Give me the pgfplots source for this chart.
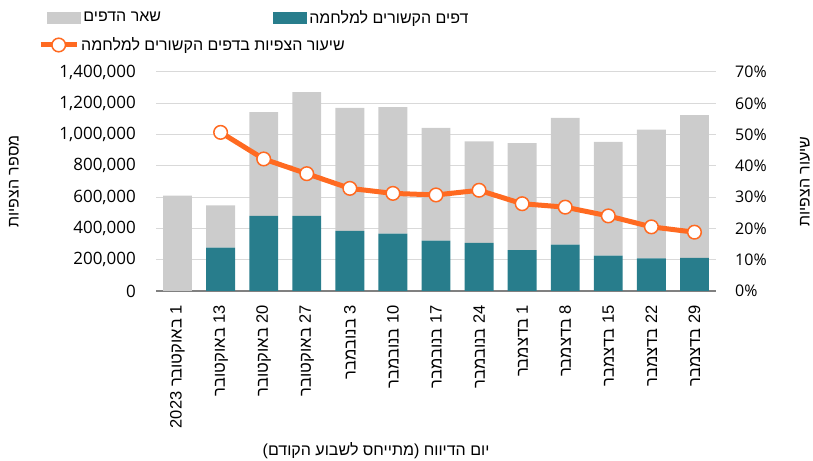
\documentclass[border=0pt]{standalone}
\usepackage{fontspec}
\setmainfont{Open Sans}
\newfontfamily\hebfont[Script=Hebrew]{Liberation Sans}
\usepackage{pgfplots}
\usepackage{pgfplotstable}
\pgfplotsset{compat=1.18}
\TeXXeTstate=1
\newcommand{\heb}[1]{{\hebfont\beginR #1\endR}}

\definecolor{warteal}{HTML}{287D8C}
\definecolor{restgray}{HTML}{CCCCCC}
\definecolor{rateorange}{HTML}{FF6A21}
\definecolor{gridgray}{HTML}{D9D9D9}
\definecolor{axisgray}{HTML}{808080}

\pgfplotsset{
  common/.style={
    at={(156pt,169pt)}, anchor=south west,
    scale only axis, width=560pt, height=219pt,
    xmin=-0.5, xmax=12.5,
    major tick length=0pt,
    /pgf/number format/assume math mode=true,
  },
  longline legend/.style={legend image code/.code={%
    \draw[mark repeat=2, mark phase=2, ##1] plot coordinates {(0pt,0pt) (18pt,0pt) (36pt,0pt)};}},
}

% weekly views: war-related pages, other pages, share of war pages (%)
\pgfplotstableread{
x war    rest   rate
0 0      610000 nan
1 277000 271000 50.7
2 481000 662000 42.2
3 480000 792000 37.5
4 384000 786000 32.8
5 366000 810000 31.2
6 322000 720000 30.7
7 307000 650000 32.2
8 262000 684000 27.9
9 296000 810000 26.8
10 226000 727000 24.0
11 209000 822000 20.5
12 211000 914000 18.8
}\data

\begin{document}
\fontsize{16}{19}\selectfont
\begin{tikzpicture}
\useasboundingbox (0pt,0pt) rectangle (813pt,460pt);
\begin{axis}[common,
  ybar stacked, bar width=0.67,
  ymin=0, ymax=1400000,
  ytick={0,200000,...,1400000},
  scaled y ticks=false,
  yticklabel style={/pgf/number format/fixed, /pgf/number format/1000 sep={,},
    inner xsep=0pt, font=\fontsize{17}{20}\selectfont},
  yticklabel shift=20pt,
  xtick={0,...,12},
  xticklabels={\heb{1 באוקטובר 2023}, \heb{13 באוקטובר}, \heb{20 באוקטובר}, \heb{27 באוקטובר},
    \heb{3 בנובמבר}, \heb{10 בנובמבר}, \heb{17 בנובמבר}, \heb{24 בנובמבר},
    \heb{1 בדצמבר}, \heb{8 בדצמבר}, \heb{15 בדצמבר}, \heb{22 בדצמבר}, \heb{29 בדצמבר}},
  xticklabel style={rotate=90, anchor=east, inner sep=0pt, font=\fontsize{16.5}{19}\selectfont},
  xticklabel shift=14pt,
  ymajorgrids, grid style={gridgray, line width=1pt},
  separate axis lines,
  axis x line*=bottom, axis y line*=left,
  x axis line style={axisgray, line width=1.2pt},
  y axis line style={draw=none},
  xlabel={{\hebfont\beginR יום הדיווח (מתייחס לשבוע הקודם)\endR}},
  xlabel style={at={(axis description cs:0.393,-0.731)}, anchor=center},
  ylabel={{\hebfont\beginR מספר הצפיות\endR}},
  ylabel style={at={(axis description cs:-0.254,0.5)}, anchor=center},
  legend columns=2, reverse legend,
  legend style={at={(axis description cs:-0.1944,1.2466)}, anchor=west,
    draw=none, fill=none, inner sep=0pt,
    /tikz/every even column/.append style={column sep=110.3pt}},
]
\addplot[fill=warteal, draw=none,
  legend image code/.code={\fill[warteal] (0pt,-6pt) rectangle (34pt,6pt);}]
  table[x=x, y=war]{\data};
\addlegendentry{{\hebfont\beginR דפים הקשורים למלחמה\endR}}
\addplot[fill=restgray, draw=none,
  legend image code/.code={\fill[restgray] (0pt,-6pt) rectangle (34pt,6pt);}]
  table[x=x, y=rest]{\data};
\addlegendentry{{\hebfont\beginR שאר הדפים\endR}}
\end{axis}
\begin{axis}[common,
  axis x line=none, axis y line*=right,
  y axis line style={draw=none},
  ymin=0, ymax=70, ytick={0,10,...,70},
  yticklabel={\pgfmathprintnumber{\tick}\%},
  yticklabel style={inner xsep=0pt, anchor=west},
  yticklabel shift=19pt,
  ylabel={{\hebfont\beginR שיעור הצפיות\endR}},
  ylabel style={at={(axis description cs:1.159,0.5)}, anchor=center, rotate=0},
  legend style={at={(axis description cs:-0.2107,1.1233)}, anchor=west,
    draw=none, fill=none, inner sep=0pt},
]
\addplot[rateorange, line width=5pt, mark=*, mark size=6.8pt,
  mark options={fill=white, draw=rateorange, line width=1.5pt},
  longline legend]
  table[x=x, y=rate]{\data};
\addlegendentry{{\hebfont\beginR שיעור הצפיות בדפים הקשורים למלחמה\endR}}
\end{axis}
\end{tikzpicture}
\end{document}
